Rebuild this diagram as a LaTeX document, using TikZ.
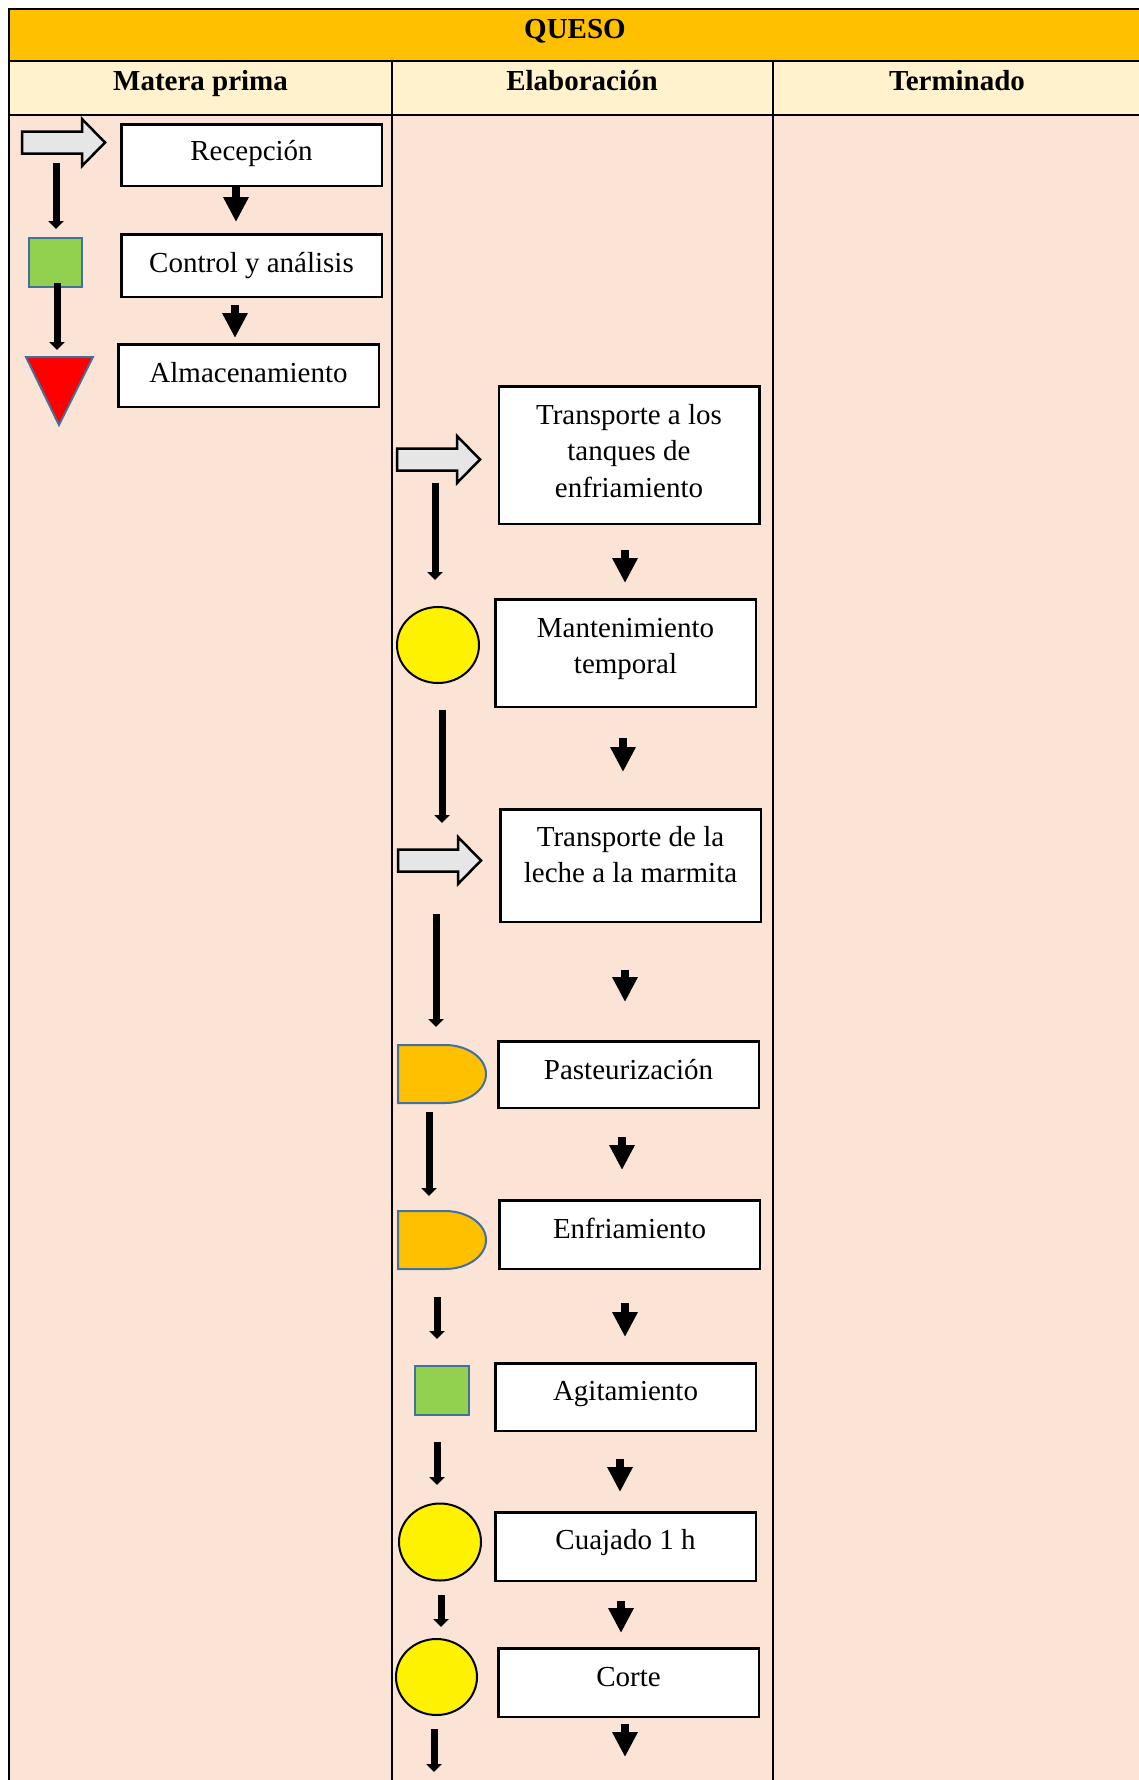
\documentclass[tikz,border=0pt]{standalone}
\usepackage{fontspec}
\setmainfont{Liberation Serif}
\usetikzlibrary{arrows.meta,shapes.geometric}
\definecolor{titlegold}{HTML}{FFC000}
\definecolor{headyel}{HTML}{FFF2CC}
\definecolor{bodypeach}{HTML}{FBE4D5}
\definecolor{opgreen}{HTML}{92D050}
\definecolor{edgeblue}{HTML}{41719C}
\definecolor{arrowgray}{HTML}{E7E6E6}
\definecolor{delayfill}{HTML}{FFC000}
\begin{document}
\begin{tikzpicture}[x=1pt,y=-1pt,
  tableline/.style={draw=black,line width=2pt},
  hdr/.style={font=\fontsize{29}{36.5}\selectfont\bfseries,inner sep=0pt,anchor=base},
  ptext/.style={font=\fontsize{29}{36.5}\selectfont,inner sep=0pt,anchor=base},
  pbox/.style={draw=black,line width=2.5pt,fill=white,inner sep=0pt,minimum width=260.5pt},
  opsq/.style={rectangle,draw=edgeblue,line width=2pt,fill=opgreen,inner sep=0pt},
  waitc/.style={ellipse,draw=black,line width=2pt,fill=yellow,inner sep=0pt},
  thinarr/.style={draw=black,line width=7pt,-{Triangle[width=15pt,length=8pt]}},
  boldarr/.style={draw=black,line width=8pt,-{Triangle[width=24pt,length=25pt]}},
  pics/blockarr/.style={code={
    \draw[black,line width=2.5pt,fill=arrowgray,line join=miter]
      (0,-11) -- (60,-11) -- (60,-23.5) -- (83,0) -- (60,23.5) -- (60,11) -- (0,11) -- cycle;}},
  pics/delay/.style={code={
    \draw[edgeblue,line width=2pt,fill=delayfill]
      (0,-29) -- (47,-29) arc[start angle=-90,end angle=90,x radius=41,y radius=29] -- (0,29) -- cycle;}}
]
\useasboundingbox (0,0) rectangle (1139,1780);
\begin{scope}
\clip (0,0) rectangle (1139,1780);
\fill[titlegold] (9,9) rectangle (1141,61);
\fill[headyel] (9,61) rectangle (1141,115);
\fill[bodypeach] (9,115) rectangle (1141,1790);
\draw[tableline] (9,1790) -- (9,9) -- (1141,9) -- (1141,1790);
\draw[tableline] (9,61) -- (1141,61) (9,115) -- (1141,115)
  (392,61) -- (392,1790) (773,61) -- (773,1790);
\end{scope}

% headers
\node[hdr] (title) at (575,38) {QUESO};
\node[hdr] (h1) at (200.5,90) {Matera prima};
\node[hdr] (h2) at (582,90) {Elaboración};
\node[hdr] (h3) at (957,90) {Terminado};

% process boxes
\node[pbox,minimum height=61.5pt] (rec) at (251.5,155) {};
\node[pbox,minimum height=62.5pt] (ctl) at (251.5,265.5) {};
\node[pbox,minimum height=62.5pt] (alm) at (248.5,375.5) {};
\node[pbox,minimum height=137.5pt] (tr1) at (629,455) {};
\node[pbox,minimum height=107.5pt] (man) at (625.5,653) {};
\node[pbox,minimum height=112.5pt] (tr2) at (630.5,865.5) {};
\node[pbox,minimum height=66.5pt] (pas) at (628.5,1074.5) {};
\node[pbox,minimum height=68.5pt] (enf) at (629.5,1234.5) {};
\node[pbox,minimum height=67.5pt] (agi) at (625.5,1397) {};
\node[pbox,minimum height=68.5pt] (cua) at (625.5,1546.5) {};
\node[pbox,minimum height=68.5pt] (cor) at (628.5,1682.5) {};

% texts
\node[ptext] (recT) at (rec.center |- 0,160) {Recepción};
\node[ptext] (ctlT) at (ctl.center |- 0,272) {Control y análisis};
\node[ptext] (almT) at (alm.center |- 0,382) {Almacenamiento};
\node[ptext] (tr1a) at (tr1.center |- 0,424) {Transporte a los};
\node[ptext] (tr1b) at (tr1.center |- 0,460.5) {tanques de};
\node[ptext] (tr1c) at (tr1.center |- 0,497) {enfriamiento};
\node[ptext] (manA) at (man.center |- 0,637) {Mantenimiento};
\node[ptext] (manB) at (man.center |- 0,673) {temporal};
\node[ptext] (tr2a) at (tr2.center |- 0,846) {Transporte de la};
\node[ptext] (tr2b) at (tr2.center |- 0,882.5) {leche a la marmita};
\node[ptext] (pasT) at (pas.center |- 0,1079) {Pasteurización};
\node[ptext] (enfT) at (enf.center |- 0,1238) {Enfriamiento};
\node[ptext] (agiT) at (agi.center |- 0,1400) {Agitamiento};
\node[ptext] (cuaT) at (cua.center |- 0,1549) {Cuajado 1 h};
\node[ptext] (corT) at (cor.center |- 0,1686) {Corte};

% symbols
\pic (a1) at (22,142.5) {blockarr};
\pic (a2) at (397,459.5) {blockarr};
\pic (a3) at (398,860.5) {blockarr};
\node[opsq,minimum width=53pt,minimum height=49pt] (g1) at (55.5,262.5) {};
\node[opsq,minimum width=54pt,minimum height=49pt] (g2) at (442,1390.5) {};
\draw[edgeblue,line width=2pt,fill=red,line join=miter] (26,357) -- (93,357) -- (59,425) -- cycle;
\node[waitc,minimum width=82pt,minimum height=76pt] (c1) at (438,645) {};
\node[waitc,minimum width=82pt,minimum height=77pt] (c2) at (440,1542) {};
\node[waitc,minimum width=81pt,minimum height=76pt] (c3) at (436.5,1677) {};
\pic (d1) at (398,1074) {delay};
\pic (d2) at (398,1240) {delay};

% thin arrows (left of each column)
\foreach \x/\ya/\yb [count=\i] in {56/163/229, 57/283/350, 435/483/580, 442/710/823,
  436/914/1027, 429/1112/1196, 437/1297/1339, 437/1442/1485, 441/1595/1627, 434/1729/1772}
  { \coordinate (ts\i) at (\x,\ya); \coordinate (te\i) at (\x,\yb);
    \draw[thinarr] (ts\i) -- (te\i); }

% bold arrows between boxes
\foreach \x/\ya/\yb [count=\i] in {236/187/222, 235/305/338, 625/550/583, 623/738/772,
  625/970/1002, 622/1137/1170, 625/1303/1337, 620/1459/1492, 621/1601/1633, 625/1724/1757}
  { \coordinate (bs\i) at (\x,\ya); \coordinate (be\i) at (\x,\yb);
    \draw[boldarr] (bs\i) -- (be\i); }
\end{tikzpicture}
\end{document}
